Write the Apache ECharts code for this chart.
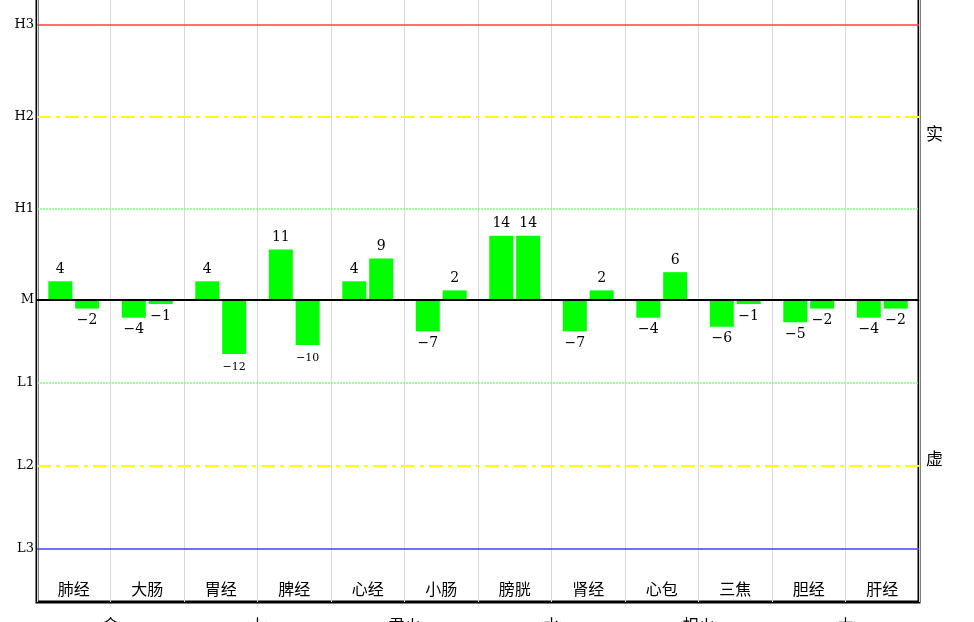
<!DOCTYPE html>
<html>
<head>
<meta charset="utf-8">
<script src="https://cdn.jsdelivr.net/npm/echarts@6/dist/echarts.min.js"></script>
<style>
  html, body { margin: 0; padding: 0; background: #fff; }
  #chart { width: 974px; height: 622px; }
</style>
</head>
<body>
<div id="chart"></div>
<script>
var meridians = ['肺经', '大肠', '胃经', '脾经', '心经', '小肠', '膀胱', '肾经', '心包', '三焦', '胆经', '肝经'];
var elements = ['<金>', '<土>', '<君火>', '<水>', '<相火>', '<木>'];
var firstValues = [4, -4, 4, 11, 4, -7, 14, -7, -4, -6, -5, -4];
var secondValues = [-2, -1, -12, -10, 9, 2, 14, 2, 6, -1, -2, -2];
var levelNames = ['H3', 'H2', 'H1', 'M', 'L1', 'L2', 'L3'];
var levelValues = [60.4, 40.2, 20, 0, -18.2, -36.5, -54.7];

var levelStyles = [
    { color: '#ff4040', type: 'solid', width: 1.5 },
    { color: '#ffff00', type: [14, 5, 4, 5], width: 2 },
    { color: '#80ff80', type: [2, 1], width: 1.5 },
    { color: '#000000', type: 'solid', width: 2 },
    { color: '#80ff80', type: [2, 1], width: 1.5 },
    { color: '#ffff00', type: [14, 5, 4, 5], width: 2 },
    { color: '#4040ff', type: 'solid', width: 1.5 }
];

var chart = echarts.init(document.getElementById('chart'));

function barData(values) {
    return values.map(function (v) {
        return {
            value: v,
            label: {
                position: v >= 0 ? 'top' : 'bottom',
                fontSize: v <= -10 ? 11 : 14,
                distance: v <= -10 ? 8 : 5
            }
        };
    });
}

var barLabel = {
    show: true,
    color: '#000',
    fontFamily: 'DejaVu Serif',
    formatter: function (p) {
        return p.value < 0 ? '\u2212' + Math.abs(p.value) : String(p.value);
    }
};

var option = {
    animation: false,
    backgroundColor: '#fff',
    grid: {
        left: 37,
        right: 55,
        top: -3,
        bottom: 20,
        containLabel: false,
        outerBoundsMode: 'none',
        show: true,
        borderColor: '#000',
        borderWidth: 3,
        backgroundColor: 'transparent'
    },
    xAxis: [
        {
            type: 'category',
            data: meridians,
            axisLine: { show: false },
            axisTick: { show: false },
            splitLine: { show: true, interval: 0, lineStyle: { color: '#d9d9d9', width: 1 } },
            axisLabel: {
                inside: true,
                margin: 5,
                color: '#000',
                fontSize: 16,
                fontFamily: 'Noto Sans CJK SC'
            },
            z: 1
        },
        {
            type: 'category',
            data: elements,
            position: 'bottom',
            axisLine: { show: false },
            axisTick: { show: false },
            splitLine: { show: false },
            axisLabel: {
                margin: 15,
                color: '#000',
                fontSize: 16,
                fontFamily: 'Noto Sans CJK SC'
            }
        }
    ],
    yAxis: {
        type: 'value',
        min: -66.5,
        max: 66.5,
        axisLine: { show: false },
        axisTick: { show: false },
        axisLabel: { show: false },
        splitLine: { show: false }
    },
    graphic: [
        { type: 'text', left: 926, top: 125, style: { text: '实', fontSize: 17, fontFamily: 'Noto Sans CJK SC', fill: '#000' } },
        { type: 'text', left: 926, top: 450, style: { text: '虚', fontSize: 17, fontFamily: 'Noto Sans CJK SC', fill: '#000' } }
    ],
    series: [
        {
            name: 'first',
            type: 'bar',
            xAxisIndex: 0,
            barWidth: 24,
            barGap: '12%',
            itemStyle: { color: '#00ff00' },
            label: barLabel,
            data: barData(firstValues),
            markLine: {
                silent: true,
                symbol: 'none',
                z: 3,
                label: {
                    show: true,
                    position: 'start',
                    distance: 3,
                    color: '#000',
                    fontSize: 13,
                    fontFamily: 'DejaVu Serif',
                    formatter: '{b}'
                },
                data: levelNames.map(function (n, i) {
                    return { name: n, yAxis: levelValues[i], lineStyle: levelStyles[i] };
                })
            }
        },
        {
            name: 'second',
            type: 'bar',
            xAxisIndex: 0,
            barWidth: 24,
            barGap: '12%',
            itemStyle: { color: '#00ff00' },
            label: barLabel,
            data: barData(secondValues)
        }
    ]
};

chart.setOption(option);
</script>
</body>
</html>
